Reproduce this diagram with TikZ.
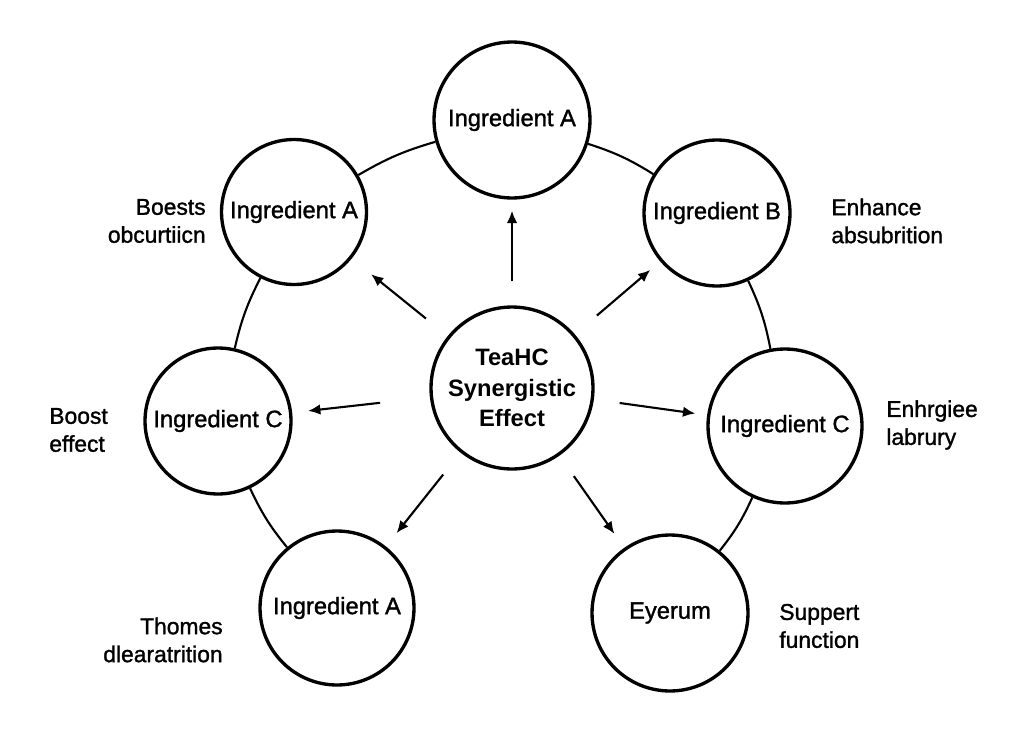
\documentclass[tikz,border=0pt]{standalone}
\usepackage{fontspec}
\setmainfont{Liberation Sans}
\newfontfamily\medfont[FakeBold=1.3]{Liberation Sans}
\usetikzlibrary{arrows.meta}
\begin{document}
\begin{tikzpicture}[x=0.02cm,y=-0.02cm,
  ring/.style={circle,draw=black,line width=1.9pt,fill=white,inner sep=0pt,align=center,font=\medfont\fontsize{13.5}{16}\selectfont},
  side/.style={font=\medfont\fontsize{13}{15.9}\selectfont,inner sep=0pt},
  link/.style={line width=1.2pt},
  arr/.style={line width=1.2pt,-{Latex[length=7pt,width=6pt]}}]
\useasboundingbox (0,0) rectangle (1024,747);
\fill[white] (0,0) rectangle (1024,747);
\node[ring,minimum size=3.12cm] (top) at (512,120) {Ingredient A};
\node[ring,minimum size=2.9cm] (ul) at (294,212) {Ingredient A};
\node[ring,minimum size=2.92cm] (ur) at (717,213) {Ingredient B};
\node[ring,minimum size=2.92cm] (lm) at (218,421) {Ingredient C};
\node[ring,minimum size=3.08cm] (rm) at (785,426) {Ingredient C};
\node[ring,minimum size=3.08cm] (bl) at (337,608) {Ingredient A};
\node[ring,minimum size=3.12cm] (br) at (670,613) {Eyerum};
\node[ring,minimum size=3.24cm,font=\bfseries\fontsize{13.5}{17.5}\selectfont] (c) at (512,388) {TeaHC\\Synergistic\\Effect};
\draw[link] (top) to[bend right=7] (ul);
\draw[link] (top) to[bend left=7] (ur);
\draw[link] (ul) to[bend right=7] (lm);
\draw[link] (ur) to[bend left=7] (rm);
\draw[link] (lm) to[bend right=7] (bl);
\draw[link] (rm) to[bend left=7] (br);
\draw[arr,shorten <=13.7pt,shorten >=6.3pt] (c) -- (top);
\draw[arr,shorten <=15.9pt,shorten >=14.2pt] (c) -- (ul);
\draw[arr,shorten <=16.5pt,shorten >=7.4pt] (c) -- (ur);
\draw[arr,shorten <=28.5pt,shorten >=9.1pt] (c) -- (lm);
\draw[arr,shorten <=14.8pt,shorten >=6.8pt] (c) -- (rm);
\draw[arr,shorten <=15.9pt,shorten >=9.7pt] (c) -- (bl);
\draw[arr,shorten <=14.2pt,shorten >=9.7pt] (c) -- (br);
\node[side,anchor=east,align=right] (t1) at (206,221) {Boests\\obcurtiicn};
\node[side,anchor=west,align=left] (t2) at (831,221) {Enhance\\absubrition};
\node[side,anchor=west,align=left] (t3) at (49,430) {Boost\\effect};
\node[side,anchor=west,align=left] (t4) at (886,425) {Enhrgiee\\labrury};
\node[side,anchor=east,align=right] (t5) at (223,640) {Thomes\\dlearatrition};
\node[side,anchor=west,align=left] (t6) at (779,626) {Suppert\\function};
\end{tikzpicture}
\end{document}
